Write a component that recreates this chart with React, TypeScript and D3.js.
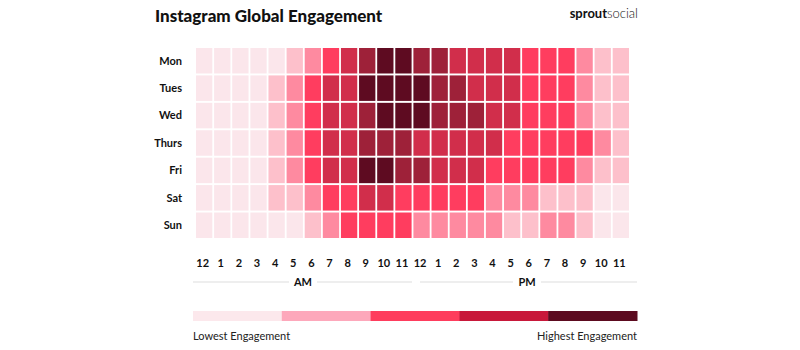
import React, { useEffect, useRef } from 'react';
import * as d3 from 'd3';

const days = ['Mon', 'Tues', 'Wed', 'Thurs', 'Fri', 'Sat', 'Sun'];
const hourLabels = ['12', '1', '2', '3', '4', '5', '6', '7', '8', '9', '10', '11',
  '12', '1', '2', '3', '4', '5', '6', '7', '8', '9', '10', '11'];

// engagement level per hour (1 = lowest, 7 = highest), 12AM..11PM
const mon = [1, 1, 1, 1, 1, 2, 3, 4, 5, 6, 7, 7, 6, 6, 5, 5, 5, 5, 4, 4, 4, 3, 2, 2];
const tue = [1, 1, 1, 1, 2, 3, 4, 5, 5, 7, 7, 7, 7, 6, 6, 5, 5, 5, 4, 4, 4, 3, 2, 2];
const wed = [1, 1, 1, 1, 2, 3, 4, 5, 5, 6, 7, 7, 7, 6, 6, 6, 5, 5, 4, 4, 4, 3, 2, 2];
const thu = [1, 1, 1, 1, 2, 3, 4, 5, 5, 6, 6, 6, 5, 5, 5, 5, 5, 4, 4, 4, 4, 4, 3, 2];
const fri = [1, 1, 1, 1, 2, 3, 4, 5, 5, 7, 7, 6, 6, 5, 5, 5, 4, 4, 4, 4, 4, 3, 2, 2];
const sat = [1, 1, 1, 1, 2, 2, 3, 4, 4, 5, 5, 4, 4, 4, 4, 4, 3, 3, 3, 2, 2, 2, 1, 1];
const sun = [1, 1, 1, 1, 1, 1, 2, 3, 4, 4, 4, 4, 3, 3, 3, 3, 3, 2, 2, 3, 3, 2, 1, 1];
const rows = [mon, tue, wed, thu, fri, sat, sun];

const levelColors = ['#fbe6eb', '#fdc0cb', '#fe8aa0', '#ff3d5f', '#d12e4b', '#9e2139', '#5e0b21'];
const legendColors = ['#fce8ec', '#fda8bb', '#fe3d5d', '#c8183a', '#5c0a1f'];

const App = () => {
  const ref = useRef<SVGSVGElement>(null);

  useEffect(() => {
    const svg = d3.select(ref.current);
    svg.selectAll('*').remove();
    const font = 'Lato, "Open Sans", sans-serif';

    const x = d3.scaleBand<number>().domain(d3.range(24)).range([196, 629]).paddingInner(0.1);
    const y = d3.scaleBand<number>().domain(d3.range(7)).range([48, 238]).paddingInner(0.07);
    const color = d3.scaleOrdinal<number, string>().domain(d3.range(1, 8)).range(levelColors);

    // title + logo
    svg.append('text').text('Instagram Global Engagement')
      .attr('x', 155).attr('y', 22)
      .style('font-family', font).style('font-weight', 900).style('font-size', '17px').attr('fill', '#111');
    const logo = svg.append('text').attr('x', 638).attr('y', 18).attr('text-anchor', 'end')
      .style('font-family', font).style('font-size', '13px').attr('fill', '#111');
    logo.append('tspan').text('sprout').style('font-weight', 700);
    logo.append('tspan').text('social').style('font-weight', 300);

    // cells
    rows.forEach((r, ri) => {
      svg.append('g').selectAll('rect').data(r).enter().append('rect')
        .attr('x', (_d, i) => x(i) as number)
        .attr('y', y(ri) as number)
        .attr('width', x.bandwidth())
        .attr('height', y.bandwidth())
        .attr('fill', d => color(d));
    });

    // day labels
    svg.append('g').selectAll('text').data(days).enter().append('text')
      .text(d => d)
      .attr('x', 182)
      .attr('y', (_d, i) => (y(i) as number) + y.bandwidth() / 2)
      .attr('dy', '0.35em').attr('text-anchor', 'end')
      .style('font-family', font).style('font-weight', 700).style('font-size', '11px').attr('fill', '#111');

    // hour labels
    svg.append('g').selectAll('text').data(hourLabels).enter().append('text')
      .text(d => d)
      .attr('x', (_d, i) => (x(i) as number) + x.bandwidth() / 2 - 1.5)
      .attr('y', 263).attr('dy', '0.35em').attr('text-anchor', 'middle')
      .style('font-family', font).style('font-weight', 700).style('font-size', '11px').attr('fill', '#111');

    // AM / PM
    const halves = [
      { label: 'AM', x0: 193, x1: 412, cx: 303 },
      { label: 'PM', x0: 420, x1: 637, cx: 527 },
    ];
    halves.forEach(h => {
      svg.append('line').attr('x1', h.x0).attr('x2', h.cx - 14).attr('y1', 282).attr('y2', 282)
        .attr('stroke', '#ddd').attr('stroke-width', 1);
      svg.append('line').attr('x1', h.cx + 14).attr('x2', h.x1).attr('y1', 282).attr('y2', 282)
        .attr('stroke', '#ddd').attr('stroke-width', 1);
      svg.append('text').text(h.label).attr('x', h.cx).attr('y', 282).attr('dy', '0.35em')
        .attr('text-anchor', 'middle')
        .style('font-family', font).style('font-weight', 700).style('font-size', '11px').attr('fill', '#111');
    });

    // legend
    const lx = d3.scaleBand<number>().domain(d3.range(legendColors.length)).range([193, 637]);
    svg.append('g').selectAll('rect').data(legendColors).enter().append('rect')
      .attr('x', (_d, i) => lx(i) as number).attr('y', 311)
      .attr('width', lx.bandwidth() + 0.5).attr('height', 10)
      .attr('fill', d => d);
    svg.append('text').text('Lowest Engagement').attr('x', 193).attr('y', 340)
      .style('font-family', font).style('font-size', '11px').attr('fill', '#222');
    svg.append('text').text('Highest Engagement').attr('x', 637).attr('y', 340).attr('text-anchor', 'end')
      .style('font-family', font).style('font-size', '11px').attr('fill', '#222');
  }, []);

  return (
    <svg ref={ref} width={800} height={350}
      style={{ position: 'absolute', left: 0, top: 0, background: '#fff' }} />
  );
};

export default App;
